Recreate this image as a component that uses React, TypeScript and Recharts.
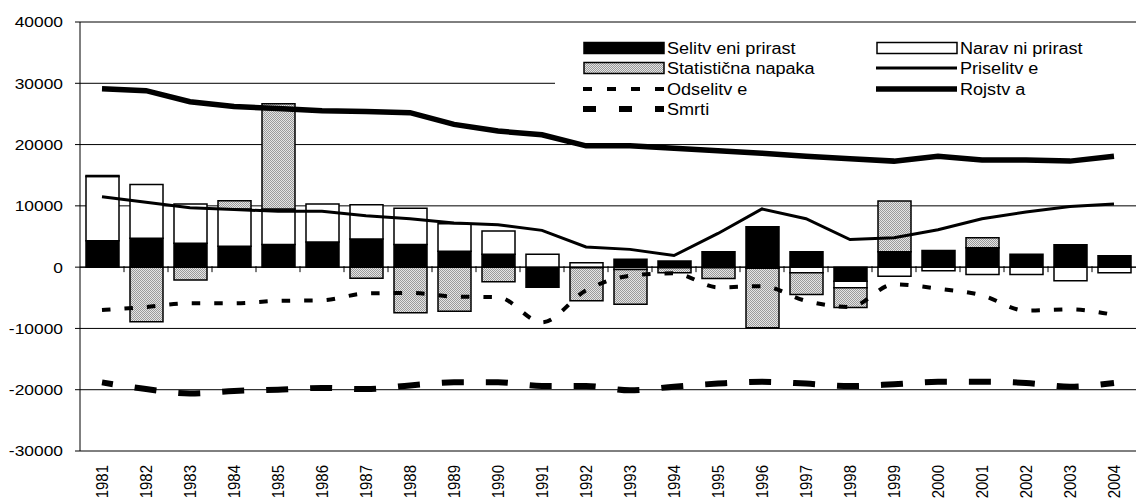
import React from 'react';
import { ComposedChart, Bar, Line, XAxis, YAxis, CartesianGrid, ReferenceLine, Legend } from 'recharts';

const years = [
  '1981', '1982', '1983', '1984', '1985', '1986', '1987', '1988', '1989', '1990', '1991', '1992',
  '1993', '1994', '1995', '1996', '1997', '1998', '1999', '2000', '2001', '2002', '2003', '2004',
];

// bars (stacked, positives up / negatives down)
const selitveniPrirast = [
  4300, 4700, 3900, 3400, 3700, 4100, 4600, 3700, 2600, 2100, -3300, -100,
  1300, 1000, 2500, 6600, 2500, -2300, 2500, 2700, 3150, 2100, 3650, 1850,
];
const naravniPrirast = [
  10500, 8800, 6400, 6100, 5800, 6200, 5600, 5900, 4500, 3800, 2100, 700,
  -400, -100, -100, -200, -900, -1050, -1500, -600, -1200, -1200, -2200, -900,
];
const statisticnaNapaka = [
  150, -8900, -2100, 1350, 17150, 0, -1800, -7450, -7200, -2400, 0, -5400,
  -5650, -800, -1750, -9700, -3550, -3250, 8300, 0, 1650, 0, 0, 0,
];

// lines
const priselitve = [
  11500, 10600, 9700, 9400, 9100, 9100, 8400, 7900, 7200, 6900, 6000, 3300,
  2900, 1900, 5500, 9500, 7900, 4500, 4800, 6100, 7900, 9000, 9900, 10300,
];
const odselitve = [
  -7000, -6500, -5900, -5900, -5500, -5400, -4300, -4200, -4800, -4900, -9000, -3800,
  -1400, -1000, -3300, -3100, -5500, -6500, -2800, -3500, -4600, -7100, -6900, -7800,
];
const rojstva = [
  29100, 28800, 27000, 26200, 25900, 25500, 25400, 25200, 23300, 22200, 21600, 19800,
  19800, 19400, 19000, 18600, 18100, 17700, 17300, 18100, 17500, 17500, 17300, 18100,
];
const smrti = [
  -18800, -19900, -20600, -20200, -20000, -19700, -19900, -19300, -18800, -18800, -19400, -19400,
  -20100, -19500, -19000, -18700, -19000, -19400, -19100, -18700, -18700, -18900, -19500, -18900,
];

const yTicks = [-30000, -20000, -10000, 0, 10000, 20000, 30000, 40000];

const data = years.map((year, i) => ({
  year,
  sel: selitveniPrirast[i],
  nar: naravniPrirast[i],
  stat: statisticnaNapaka[i],
  pris: priselitve[i],
  ods: odselitve[i],
  roj: rojstva[i],
  smr: smrti[i],
}));

const FONT = '"Liberation Sans", Arial, sans-serif';

const YTick = ({ x, y, payload }: any) => (
  <text
    transform={`translate(${x},${y}) scale(1.16,1)`}
    textAnchor="end"
    dy="0.36em"
    fontSize={15}
    fontFamily={FONT}
    fill="#000"
  >
    {payload.value}
  </text>
);

const XTick = ({ x, y, payload }: any) => (
  <text
    transform={`translate(${x},${y + 14}) scale(1.15,1) rotate(-90)`}
    textAnchor="end"
    dy="0.36em"
    fontSize={15}
    fontFamily={FONT}
    fill="#000"
  >
    {payload.value}
  </text>
);

// the category axis sits on zero, ticks between categories
const ZeroAxis = (props: any) => {
  const { x1, y1, x2 } = props;
  const step = (x2 - x1) / years.length;
  return (
    <g>
      <line x1={x1} y1={y1} x2={x2} y2={y1} stroke="#000" strokeWidth={1} />
      {years.slice(1).map((_, i) => {
        const x = x1 + step * (i + 1);
        return <line key={i} x1={x} x2={x} y1={y1 - 1} y2={y1 + 5} stroke="#000" strokeWidth={1} />;
      })}
    </g>
  );
};

const legendItems = [
  { name: 'Selitv eni prirast', kind: 'bar', fill: '#000', col: 0, row: 0 },
  { name: 'Narav ni prirast', kind: 'bar', fill: '#fff', col: 1, row: 0 },
  { name: 'Statistična napaka', kind: 'bar', fill: 'url(#dotsLegend)', col: 0, row: 1 },
  { name: 'Priselitv e', kind: 'line', width: 3, dash: undefined, col: 1, row: 1 },
  { name: 'Odselitv e', kind: 'line', width: 4, dash: '9 15', col: 0, row: 2 },
  { name: 'Rojstv a', kind: 'line', width: 5.5, dash: undefined, col: 1, row: 2 },
  { name: 'Smrti', kind: 'line', width: 6, dash: '13 23', col: 0, row: 3 },
];

const rowY = [16, 36, 57, 77];
const colX = [29, 322];

const LegendBox = () => (
  <svg width={581} height={92} style={{ display: 'block' }}>
    <defs>
      <pattern id="dotsLegend" width="2" height="2" patternUnits="userSpaceOnUse">
        <rect width="2" height="2" fill="#e4e4e4" />
        <rect width="1" height="1" fill="#9a9a9a" />
        <rect x="1" y="1" width="1" height="1" fill="#9a9a9a" />
      </pattern>
    </defs>
    {legendItems.map((it) => {
      const x = colX[it.col];
      const y = rowY[it.row];
      return (
        <g key={it.name}>
          {it.kind === 'bar' ? (
            <rect x={x} y={y - 5.5} width={80} height={11} fill={it.fill} stroke="#000" strokeWidth={1.5} />
          ) : (
            <line x1={x - 1} x2={x + 80} y1={y} y2={y} stroke="#000" strokeWidth={it.width} strokeDasharray={it.dash} />
          )}
          <text
            transform={`translate(${x + 83},${y}) scale(1.13,1)`}
            dy="0.36em"
            fontSize={16}
            fontFamily={FONT}
            fill="#000"
          >
            {it.name}
          </text>
        </g>
      );
    })}
  </svg>
);

export default function App() {
  return (
    <div style={{ position: 'fixed', left: 0, top: 0, background: '#fff' }}>
      <ComposedChart
        width={1136}
        height={499}
        data={data}
        stackOffset="sign"
        margin={{ top: 22, right: 0, bottom: 0, left: 0 }}
      >
        <defs>
          <pattern id="dots" width="2" height="2" patternUnits="userSpaceOnUse">
            <rect width="2" height="2" fill="#e4e4e4" />
            <rect width="1" height="1" fill="#9a9a9a" />
            <rect x="1" y="1" width="1" height="1" fill="#9a9a9a" />
          </pattern>
        </defs>
        <CartesianGrid vertical={false} stroke="#000" strokeWidth={1} />
        <XAxis
          dataKey="year"
          height={48}
          axisLine={false}
          tickLine={false}
          tickSize={0}
          tickMargin={0}
          interval={0}
          tick={<XTick />}
        />
        <YAxis
          type="number"
          width={80}
          domain={[-30000, 40000]}
          ticks={yTicks}
          interval={0}
          axisLine={{ stroke: '#000', strokeWidth: 1 }}
          tickLine={{ stroke: '#000', strokeWidth: 1 }}
          tickSize={5}
          tickMargin={12}
          tick={<YTick />}
        />
        <Legend
          layout="horizontal"
          verticalAlign="middle"
          align="center"
          content={() => <LegendBox />}
          wrapperStyle={{ left: 555, top: 32, width: 581, height: 92, background: '#fff' }}
        />
        <Bar dataKey="sel" name="Selitveni prirast" stackId="a" barSize={33} fill="#000" stroke="#000" strokeWidth={1.5} isAnimationActive={false} />
        <Bar dataKey="nar" name="Naravni prirast" stackId="a" barSize={33} fill="#fff" stroke="#000" strokeWidth={1.5} isAnimationActive={false} />
        <Bar dataKey="stat" name="Statistična napaka" stackId="a" barSize={33} fill="url(#dots)" stroke="#000" strokeWidth={1.5} isAnimationActive={false} />
        <ReferenceLine y={0} shape={(p: any) => <ZeroAxis {...p} />} />
        <Line dataKey="pris" name="Priselitve" type="linear" stroke="#000" strokeWidth={3} dot={false} isAnimationActive={false} />
        <Line dataKey="roj" name="Rojstva" type="linear" stroke="#000" strokeWidth={5.5} dot={false} isAnimationActive={false} />
        <Line dataKey="ods" name="Odselitve" type="monotone" stroke="#000" strokeWidth={4} strokeDasharray="8.5 14" dot={false} isAnimationActive={false} />
        <Line dataKey="smr" name="Smrti" type="monotone" stroke="#000" strokeWidth={6} strokeDasharray="22 22" strokeDashoffset={11} dot={false} isAnimationActive={false} />
      </ComposedChart>
    </div>
  );
}
